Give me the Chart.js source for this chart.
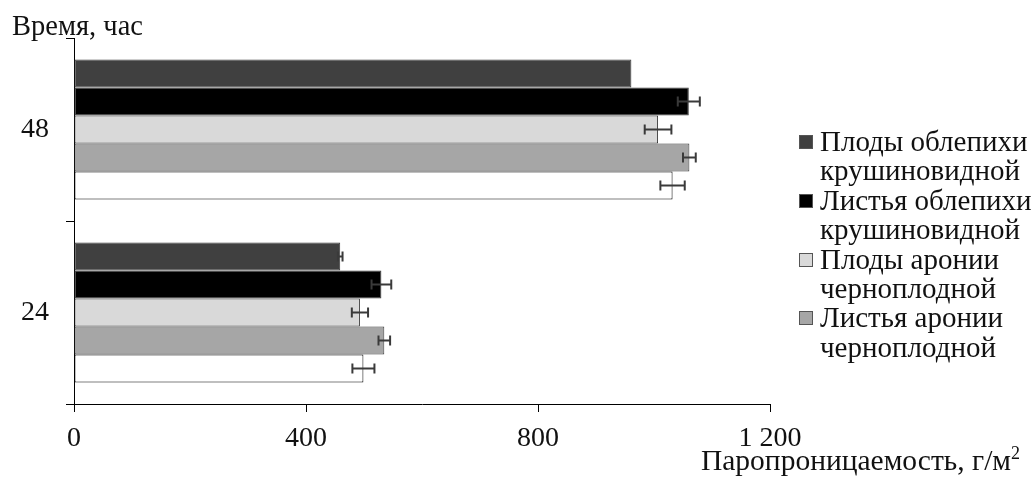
<!DOCTYPE html>
<html>
<head>
<meta charset="utf-8">
<script src="https://cdn.jsdelivr.net/npm/chart.js@4"></script>
<style>
    body { margin: 0; background: #fff; }
    #wrap { position: relative; width: 1035px; height: 481px; font-family: "Liberation Serif", "Times New Roman", serif; color: #111; }
    #chart { position: absolute; left: 0; top: 0; }
    #yTitle { position: absolute; left: 12px; top: 12px; font-size: 28.5px; line-height: 28px; white-space: nowrap; }
    #xTitle { position: absolute; right: 15px; top: 446px; font-size: 29.5px; line-height: 28px; white-space: nowrap; }
    #xTitle sup { font-size: 18px; vertical-align: 11px; line-height: 0; }
    #legend { position: absolute; left: 799px; top: 127px; font-size: 29px; line-height: 29.4px; }
    .legend-item { position: relative; padding-left: 21px; white-space: pre-line; }
    .legend-box { position: absolute; left: 0; top: 8px; width: 14px; height: 14px; border: 1px solid #555; box-sizing: border-box; }
</style>
</head>
<body>
<div id="wrap">
    <canvas id="chart" width="1035" height="481"></canvas>
    <div id="yTitle">Время, час</div>
    <div id="xTitle">Паропроницаемость, г/м<sup>2</sup></div>
    <div id="legend"></div>
</div>
<script>
// categories (top to bottom) and x ticks
const timeLabels = ['48', '24'];
const xTicks = [0, 400, 800, 1200];

// series names as shown in the legend (last series has no legend entry)
const seriesNames = [
    'Плоды облепихи\nкрушиновидной',
    'Листья облепихи\nкрушиновидной',
    'Плоды аронии\nчерноплодной',
    'Листья аронии\nчерноплодной',
    ''
];
const seriesColors = ['#404040', '#000000', '#d9d9d9', '#a6a6a6', '#ffffff'];

// values, g/m2, for 48 h and 24 h
const seaBuckthornFruits = [961, 459];
const seaBuckthornLeaves = [1060, 530];
const aroniaFruits = [1007, 493];
const aroniaLeaves = [1061, 535];
const unlabeledSeries = [1032, 499];

// error bar half-widths
const seaBuckthornFruitsErr = [0, 4];
const seaBuckthornLeavesErr = [19, 17];
const aroniaFruitsErr = [23, 14];
const aroniaLeavesErr = [11, 10];
const unlabeledSeriesErr = [21, 19];

const seriesValues = [seaBuckthornFruits, seaBuckthornLeaves, aroniaFruits, aroniaLeaves, unlabeledSeries];
const seriesErrors = [seaBuckthornFruitsErr, seaBuckthornLeavesErr, aroniaFruitsErr, aroniaLeavesErr, unlabeledSeriesErr];

const fontFamily = '"Liberation Serif", "Times New Roman", serif';

const errorBars = {
    id: 'errorBars',
    afterDatasetsDraw(chart) {
        const ctx = chart.ctx;
        const xScale = chart.scales.x;
        ctx.save();
        ctx.strokeStyle = '#3a3a3a';
        ctx.lineWidth = 2;
        chart.data.datasets.forEach((ds, i) => {
            const meta = chart.getDatasetMeta(i);
            meta.data.forEach((bar, j) => {
                const err = seriesErrors[i][j];
                if (!err) return;
                const x1 = xScale.getPixelForValue(ds.data[j] - err);
                const x2 = xScale.getPixelForValue(ds.data[j] + err);
                const y = bar.y;
                ctx.beginPath();
                ctx.moveTo(x1, y);
                ctx.lineTo(x2, y);
                ctx.moveTo(x1, y - 5);
                ctx.lineTo(x1, y + 5);
                ctx.moveTo(x2, y - 5);
                ctx.lineTo(x2, y + 5);
                ctx.stroke();
            });
        });
        ctx.restore();
    }
};

new Chart(document.getElementById('chart'), {
    type: 'bar',
    data: {
        labels: timeLabels,
        datasets: seriesValues.map((values, i) => ({
            label: seriesNames[i],
            data: values,
            backgroundColor: seriesColors[i],
            borderColor: i === 4 ? '#000000' : '#3a3a3a',
            borderWidth: 1,
            borderSkipped: false,
            categoryPercentage: 0.765,
            barPercentage: 1
        }))
    },
    options: {
        indexAxis: 'y',
        responsive: false,
        animation: false,
        devicePixelRatio: 1,
        layout: { padding: { left: 0, right: 265, top: 38, bottom: 0 } },
        plugins: {
            legend: { display: false },
            tooltip: { enabled: false }
        },
        scales: {
            x: {
                min: 0,
                max: 1200,
                afterBuildTicks: scale => {
                    scale.ticks = xTicks.map(v => ({ value: v }));
                },
                ticks: {
                    color: '#111',
                    font: { family: fontFamily, size: 28 },
                    padding: 10,
                    maxRotation: 0,
                    callback: v => String(v).replace(/\B(?=(\d{3})+(?!\d))/g, ' ')
                },
                grid: { drawOnChartArea: false, tickLength: 8, color: '#000' },
                border: { color: '#000', width: 1 },
                afterFit: scale => { scale.height = 77; }
            },
            y: {
                ticks: {
                    color: '#111',
                    font: { family: fontFamily, size: 28 },
                    padding: 17
                },
                grid: { drawOnChartArea: false, tickLength: 8, color: '#000', offset: true },
                border: { color: '#000', width: 1 },
                afterFit: scale => { scale.width = 74; }
            }
        }
    },
    plugins: [errorBars]
});

// legend for the four named series
const legend = document.getElementById('legend');
seriesNames.forEach((name, i) => {
    if (!name) return;
    const item = document.createElement('div');
    item.className = 'legend-item';
    const box = document.createElement('span');
    box.className = 'legend-box';
    box.style.background = seriesColors[i];
    item.appendChild(box);
    item.appendChild(document.createTextNode(name));
    legend.appendChild(item);
});
</script>
</body>
</html>
